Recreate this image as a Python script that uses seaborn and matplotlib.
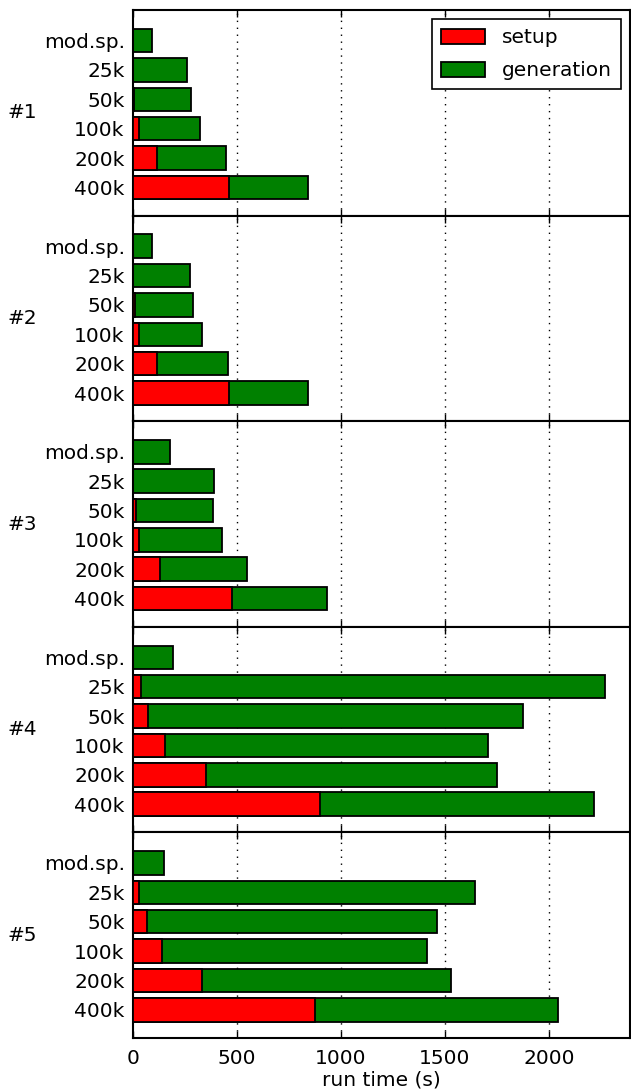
import matplotlib
matplotlib.use("Agg")
import matplotlib.pyplot as plt
import seaborn as sns
import pandas as pd
from matplotlib.patches import Patch

categories = ["mod.sp.", "25k", "50k", "100k", "200k", "400k"]
panels = ["#1", "#2", "#3", "#4", "#5"]

# setup time (s) per panel
setup_1 = [0, 1, 6, 27, 116, 463]
setup_2 = [0, 1, 8, 29, 116, 461]
setup_3 = [0, 2, 12, 31, 128, 476]
setup_4 = [0, 37, 74, 155, 352, 898]
setup_5 = [0, 31, 66, 141, 331, 875]

# total run time (setup + generation) per panel
total_1 = [91, 261, 277, 323, 445, 840]
total_2 = [91, 273, 288, 331, 459, 842]
total_3 = [176, 389, 385, 426, 548, 935]
total_4 = [190, 2269, 1878, 1707, 1752, 2218]
total_5 = [151, 1645, 1463, 1413, 1531, 2044]

setups = [setup_1, setup_2, setup_3, setup_4, setup_5]
totals = [total_1, total_2, total_3, total_4, total_5]

xticks = [0, 500, 1000, 1500, 2000]
FS = 14.5

plt.rcParams['font.family'] = ['DejaVu Sans']
plt.rcParams['font.size'] = FS

fig, axes = plt.subplots(5, 1, sharex=True, figsize=(6.31, 10.91), dpi=100)
fig.subplots_adjust(left=0.2108, right=0.999, top=0.9908, bottom=0.0486, hspace=0)

for i, ax in enumerate(axes):
    df = pd.DataFrame({"cat": categories, "setup": setups[i], "total": totals[i]})
    ax.set_axisbelow(True)
    for x in xticks[1:]:
        ax.axvline(x, color="black", linestyle=(0, (1, 4)), linewidth=1, zorder=0)
    sns.barplot(data=df, y="cat", x="total", order=categories, orient="h",
                color="#008000", saturation=1, edgecolor="black", linewidth=1.3,
                width=0.8, ax=ax, zorder=2)
    sns.barplot(data=df, y="cat", x="setup", order=categories, orient="h",
                color="#ff0000", saturation=1, edgecolor="black", linewidth=1.3,
                width=0.8, ax=ax, zorder=3)
    ax.set_ylim(5.96, -1.04)
    ax.set_xlim(0, 2392)
    ax.set_ylabel("")
    ax.set_xlabel("")
    ax.set_xticks(xticks)
    ax.tick_params(axis="x", direction="in", top=True, bottom=True, length=5,
                   width=1, labelsize=FS, pad=8)
    ax.tick_params(axis="y", length=0, labelsize=FS, pad=6)
    for s in ax.spines.values():
        s.set_linewidth(1.5)
        s.set_color("black")
    ax.text(-0.252, 0.5, panels[i], transform=ax.transAxes, ha="left",
            va="center", fontsize=FS)

axes[-1].set_xlabel("run time (s)", fontsize=FS, labelpad=2)
for ax in axes[:-1]:
    ax.tick_params(axis="x", labelbottom=False)

handles = [Patch(facecolor="#ff0000", edgecolor="black", linewidth=1.3),
           Patch(facecolor="#008000", edgecolor="black", linewidth=1.3)]
leg = axes[0].legend(handles, ["setup", "generation"], loc="upper right",
                     fontsize=FS, fancybox=False, framealpha=1,
                     edgecolor="black", handlelength=2.2, handleheight=0.75,
                     labelspacing=0.7, handletextpad=0.85, borderpad=0.45,
                     borderaxespad=0.45)
leg.get_frame().set_linewidth(1.2)

fig.savefig("out.png", dpi=100)
